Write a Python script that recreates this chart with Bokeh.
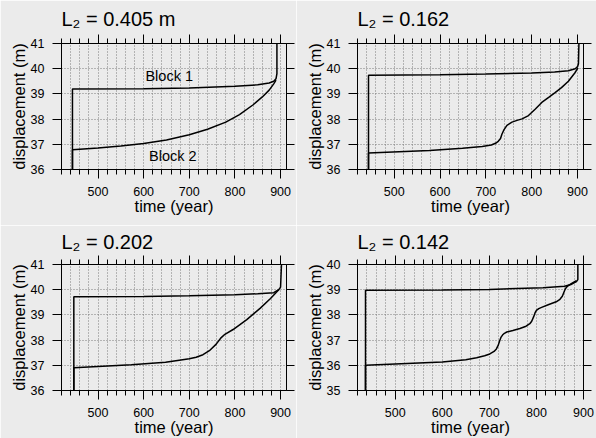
from bokeh.plotting import figure
from bokeh.layouts import column, row
from bokeh.models import (Range1d, SingleIntervalTicker, LinearAxis, CustomJSTickFormatter, Label)
from bokeh.embed import file_html
from bokeh.resources import INLINE

# ---------------- data ----------------
titles = ["L\u2082 = 0.405 m", "L\u2082 = 0.162", "L\u2082 = 0.202", "L\u2082 = 0.142"]

# panel A: L2 = 0.405 m
a_b1_t = [444, 444, 600, 700, 800, 850, 875, 885, 890, 892, 892]
a_b1_d = [36.0, 39.19, 39.2, 39.23, 39.3, 39.36, 39.43, 39.5, 39.6, 39.8, 41.0]
a_b2_t = [444, 444, 500, 550, 600, 650, 700, 740, 780, 810, 840, 860, 875, 885, 890]
a_b2_d = [36.0, 36.78, 36.85, 36.93, 37.03, 37.17, 37.38, 37.6, 37.88, 38.18, 38.57, 38.88, 39.15, 39.4, 39.55]

# panel B: L2 = 0.162
b_b1_t = [444, 444, 600, 700, 800, 850, 880, 895, 900, 902, 903]
b_b1_d = [36.0, 39.74, 39.76, 39.79, 39.83, 39.87, 39.92, 40.0, 40.08, 40.2, 41.0]
b_b2_t = [444, 444, 577, 649, 692, 712, 721, 727, 732, 735, 739, 746, 757, 768, 779, 793,
          808, 822, 837, 851, 865, 880, 894, 901]
b_b2_d = [36.0, 36.65, 36.75, 36.84, 36.91, 36.97, 37.04, 37.12, 37.23, 37.4, 37.56, 37.75,
          37.88, 37.95, 38.01, 38.14, 38.4, 38.66, 38.86, 39.05, 39.25, 39.5, 39.83, 40.03]

# panel C: L2 = 0.202
c_b1_t = [447, 447, 600, 700, 800, 850, 885, 896, 900, 902]
c_b1_d = [36.0, 39.72, 39.73, 39.76, 39.8, 39.84, 39.88, 40.0, 40.1, 41.0]
c_b2_t = [447, 447, 500, 573, 648, 678, 700, 715, 730, 744, 759, 770, 778, 796, 826, 855, 878, 896]
c_b2_d = [36.0, 36.9, 36.95, 37.02, 37.12, 37.2, 37.26, 37.32, 37.42, 37.58, 37.84, 38.1, 38.23, 38.42, 38.81, 39.26, 39.65, 40.0]

# panel D: L2 = 0.142
d_b1_t = [437, 437, 600, 700, 814, 860, 875, 885, 888, 888]
d_b1_d = [35.0, 38.98, 38.99, 39.01, 39.08, 39.14, 39.22, 39.32, 39.4, 40.0]
d_b2_t = [437, 437, 500, 600, 650, 673, 690, 701, 710, 715, 719, 722, 725, 728, 732, 737,
          750, 765, 778, 786, 790, 794, 797, 800, 805, 811, 825, 842, 850, 855, 858, 861,
          864, 867, 875, 885]
d_b2_d = [35.0, 36.0, 36.05, 36.13, 36.22, 36.3, 36.38, 36.45, 36.55, 36.65, 36.8, 36.97,
          37.12, 37.2, 37.27, 37.32, 37.38, 37.46, 37.55, 37.65, 37.75, 37.92, 38.08, 38.18,
          38.25, 38.3, 38.4, 38.52, 38.62, 38.74, 38.88, 39.02, 39.1, 39.15, 39.25, 39.36]

x_ranges = [(420, 913), (420, 913), (420, 913), (420, 900)]
y_ranges = [(36, 41), (36, 41), (36, 41), (35, 40)]

FONT = "Liberation Sans"
BG = "#ebebeb"


def make_panel(idx, b1t, b1d, b2t, b2d, width, height, bl, br, bt, bb, title_standoff):
    p = figure(width=width, height=height, output_backend="svg", toolbar_location=None,
               x_range=Range1d(*x_ranges[idx]), y_range=Range1d(*y_ranges[idx]),
               min_border_left=bl, min_border_right=br, min_border_top=bt, min_border_bottom=bb,
               background_fill_color=BG, border_fill_color=BG,
               outline_line_color="black", outline_line_width=1)
    p.title.text = titles[idx]
    p.title.text_font = FONT
    p.title.text_font_size = "20px"
    p.title.text_font_style = "normal"
    p.title.text_color = "black"
    p.title.align = "left"
    p.title.standoff = title_standoff
    p.title.offset = 0

    xt = SingleIntervalTicker(interval=100, num_minor_ticks=5)
    yt = SingleIntervalTicker(interval=1, num_minor_ticks=0)

    xa = p.xaxis[0]
    xa.ticker = xt
    xa.axis_label = "time (year)"
    ya = p.yaxis[0]
    ya.ticker = yt
    ya.axis_label = "displacement (m)"
    for ax in (xa, ya):
        ax.axis_label_text_font = FONT
        ax.axis_label_text_font_size = "16.5px"
        ax.axis_label_text_font_style = "normal"
        ax.major_label_text_font = FONT
        ax.major_label_text_font_size = "12.5px"
        ax.major_tick_in = 0
        ax.major_tick_out = 9
        ax.minor_tick_in = 0
        ax.minor_tick_out = 5
        ax.axis_line_color = "black"
        ax.major_tick_line_color = "black"
        ax.minor_tick_line_color = "black"
        ax.major_label_text_color = "black"
        ax.axis_label_text_color = "black"
    xa.major_label_standoff = 8
    xa.axis_label_standoff = -2
    ya.major_label_standoff = 8
    ya.axis_label_standoff = 0

    empty = CustomJSTickFormatter(code="return ''")
    top = LinearAxis(ticker=xt, formatter=empty, major_tick_in=0, major_tick_out=9,
                     minor_tick_in=0, minor_tick_out=5, major_label_standoff=0,
                     axis_line_color="black")
    right = LinearAxis(ticker=yt, formatter=empty, major_tick_in=0, major_tick_out=8,
                       minor_tick_in=0, minor_tick_out=0, major_label_standoff=0,
                       axis_line_color="black")
    p.add_layout(top, "above")
    p.add_layout(right, "right")

    p.xgrid[0].ticker = SingleIntervalTicker(interval=20, num_minor_ticks=0)
    p.ygrid[0].ticker = yt
    for g in (p.xgrid[0], p.ygrid[0]):
        g.grid_line_color = "#7a7a7a"
        g.grid_line_dash = "1 2"
        g.grid_line_width = 1

    p.line(b1t, b1d, line_color="black", line_width=1.5)
    p.line(b2t, b2d, line_color="black", line_width=1.5)
    return p


f1 = make_panel(0, a_b1_t, a_b1_d, a_b2_t, a_b2_d, 296, 225, 61, 10, 41, 56, 10)
f2 = make_panel(1, b_b1_t, b_b1_d, b_b2_t, b_b2_d, 300, 225, 61, 13, 41, 56, 10)
f3 = make_panel(2, c_b1_t, c_b1_d, c_b2_t, c_b2_d, 296, 213, 61, 10, 37, 46, 6)
f4 = make_panel(3, d_b1_t, d_b1_d, d_b2_t, d_b2_d, 300, 213, 61, 13, 37, 46, 6)

f1.add_layout(Label(x=656, y=39.71, text="Block 1", text_align="center", text_baseline="middle",
                    text_font=FONT, text_font_size="14.5px", text_color="black"))
f1.add_layout(Label(x=664, y=36.55, text="Block 2", text_align="center", text_baseline="middle",
                    text_font=FONT, text_font_size="14.5px", text_color="black"))

layout = column(row(f1, f2, spacing=0), row(f3, f4, spacing=0), spacing=0)

with open("out.html", "w") as fh:
    fh.write(file_html(layout, INLINE))
